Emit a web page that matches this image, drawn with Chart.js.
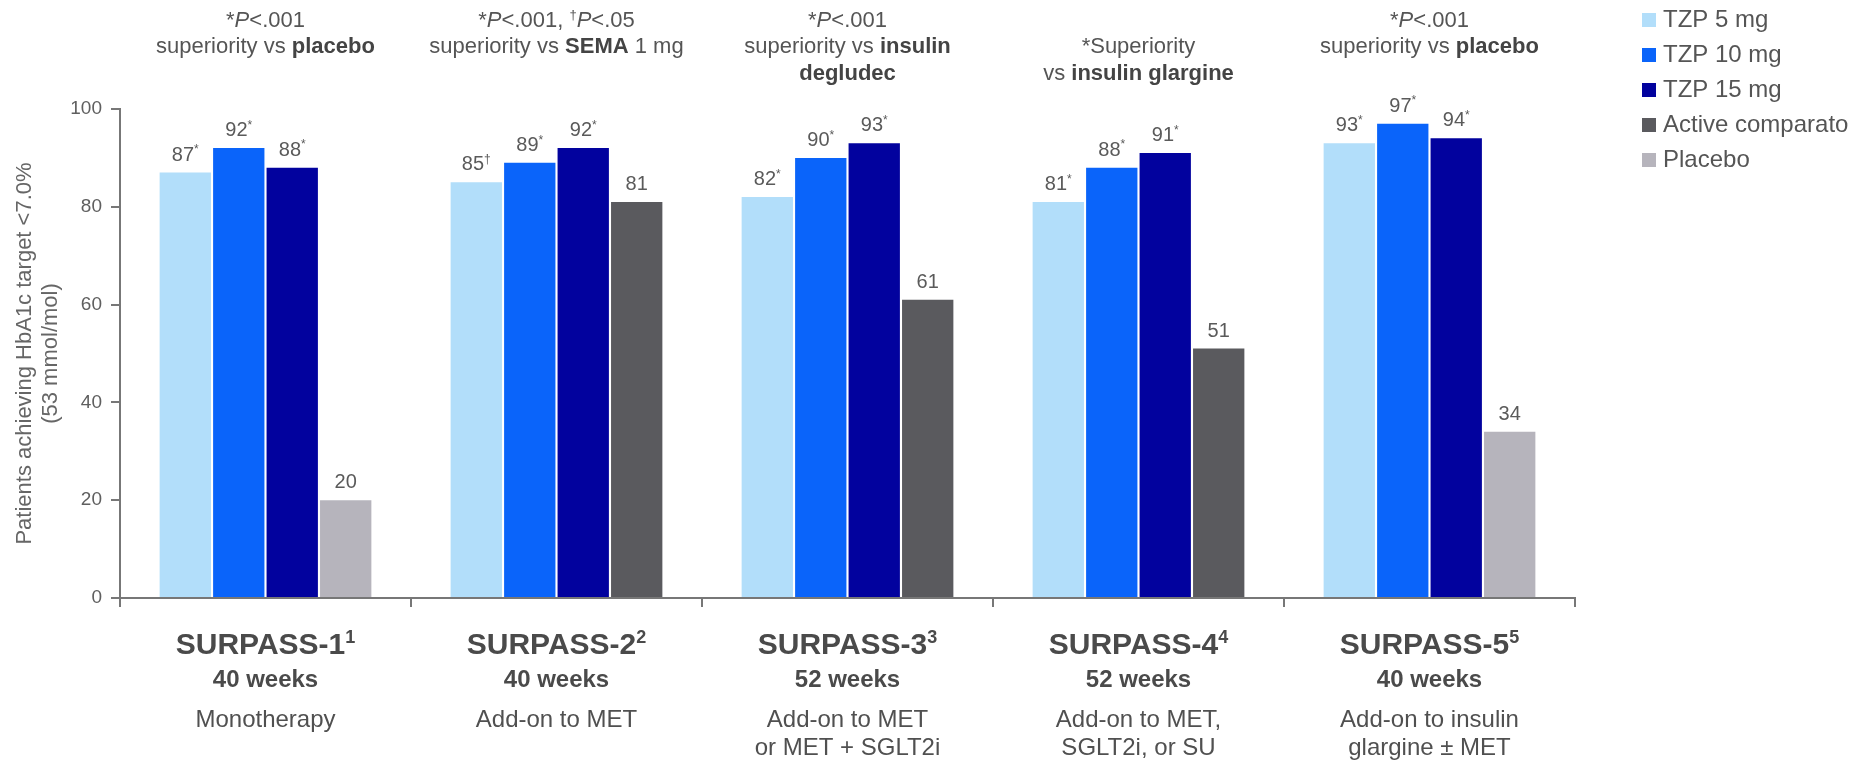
<!DOCTYPE html>
<html>
<head>
<meta charset="utf-8">
<script src="https://cdn.jsdelivr.net/npm/chart.js@4.4.1/dist/chart.umd.min.js"></script>
<style>
  html, body { margin: 0; padding: 0; background: #fff; }
</style>
</head>
<body>
<canvas id="surpass" width="1867" height="761"></canvas>
<script>
// trials along the x axis
var trials = ['SURPASS-1', 'SURPASS-2', 'SURPASS-3', 'SURPASS-4', 'SURPASS-5'];
var trialRefs = ['1', '2', '3', '4', '5'];
var durations = ['40 weeks', '40 weeks', '52 weeks', '52 weeks', '40 weeks'];
var settings = [
  ['Monotherapy'],
  ['Add-on to MET'],
  ['Add-on to MET', 'or MET + SGLT2i'],
  ['Add-on to MET,', 'SGLT2i, or SU'],
  ['Add-on to insulin', 'glargine \u00b1 MET']
];

// % of patients reaching HbA1c < 7.0%
var tzp5 = [87, 85, 82, 81, 93];
var tzp10 = [92, 89, 90, 88, 97];
var tzp15 = [88, 92, 93, 91, 94];
var activeComparator = [null, 81, 61, 51, null];
var placebo = [20, null, null, null, 34];

// footnote marks printed after each value
var tzp5Marks = ['*', '\u2020', '*', '*', '*'];
var tzp10Marks = ['*', '*', '*', '*', '*'];
var tzp15Marks = ['*', '*', '*', '*', '*'];
var noMarks = ['', '', '', '', ''];

var yTicks = [0, 20, 40, 60, 80, 100];

// significance notes above each trial: runs of [text, style] (b = bold, i = italic, s = superscript)
var notes = [
  [[['*', ''], ['P', 'i'], ['<.001', '']], [['superiority vs ', ''], ['placebo', 'b']]],
  [[['*', ''], ['P', 'i'], ['<.001, ', ''], ['\u2020', 's'], ['P', 'i'], ['<.05', '']], [['superiority vs ', ''], ['SEMA', 'b'], [' 1 mg', '']]],
  [[['*', ''], ['P', 'i'], ['<.001', '']], [['superiority vs ', ''], ['insulin', 'b']], [['degludec', 'b']]],
  [[], [['*Superiority', '']], [['vs ', ''], ['insulin glargine', 'b']]],
  [[['*', ''], ['P', 'i'], ['<.001', '']], [['superiority vs ', ''], ['placebo', 'b']]]
];

var FAMILY = '"Liberation Sans", Arial, sans-serif';

function fontFor(style, size) {
  return (style.indexOf('i') >= 0 ? 'italic ' : '') + (style.indexOf('b') >= 0 ? 'bold ' : '') + size + 'px ' + FAMILY;
}

// draws a line of mixed-style text centred on cx
function drawRuns(ctx, runs, cx, baseline, size, color, boldColor) {
  var widths = [];
  var total = 0;
  runs.forEach(function (r) {
    var sz = r[1].indexOf('s') >= 0 ? Math.round(size * 0.6) : size;
    ctx.font = fontFor(r[1], sz);
    var w = ctx.measureText(r[0]).width;
    widths.push(w);
    total += w;
  });
  var x = cx - total / 2;
  ctx.textAlign = 'left';
  ctx.textBaseline = 'alphabetic';
  runs.forEach(function (r, k) {
    var sup = r[1].indexOf('s') >= 0;
    var sz = sup ? Math.round(size * 0.6) : size;
    ctx.font = fontFor(r[1], sz);
    ctx.fillStyle = (r[1].indexOf('b') >= 0 && boldColor) ? boldColor : color;
    ctx.fillText(r[0], x, sup ? baseline - size * 0.36 : baseline);
    x += widths[k];
  });
}

var valueLabels = {
  id: 'valueLabels',
  afterDatasetsDraw: function (chart) {
    var ctx = chart.ctx;
    ctx.save();
    chart.data.datasets.forEach(function (ds, di) {
      var meta = chart.getDatasetMeta(di);
      meta.data.forEach(function (bar, i) {
        if (ds.data[i] === null) return;
        var mark = ds.marks[i];
        drawRuns(ctx, [[String(ds.data[i]), ''], [mark, 's']], bar.x, bar.y - 12, 20, '#5a5a5a');
      });
    });
    ctx.restore();
  }
};

var trialNotes = {
  id: 'trialNotes',
  afterDraw: function (chart) {
    var ctx = chart.ctx;
    var xs = chart.scales.x;
    var rows = [27, 53, 80];
    ctx.save();
    notes.forEach(function (lines, i) {
      var cx = xs.getPixelForValue(i);
      lines.forEach(function (runs, r) {
        if (runs.length) drawRuns(ctx, runs, cx, rows[r], 22, '#555555', '#444444');
      });
    });
    ctx.restore();
  }
};

var trialLabels = {
  id: 'trialLabels',
  afterDraw: function (chart) {
    var ctx = chart.ctx;
    var xs = chart.scales.x;
    ctx.save();
    trials.forEach(function (name, i) {
      var cx = xs.getPixelForValue(i);
      drawRuns(ctx, [[name, 'b'], [trialRefs[i], 'bs']], cx, 654, 30, '#4a4a4a');
      drawRuns(ctx, [[durations[i], 'b']], cx, 687, 24, '#4a4a4a');
      settings[i].forEach(function (line, k) {
        drawRuns(ctx, [[line, '']], cx, 727 + k * 28, 24, '#505050');
      });
    });
    ctx.restore();
  }
};

var sideLegend = {
  id: 'sideLegend',
  afterDraw: function (chart) {
    var ctx = chart.ctx;
    ctx.save();
    ctx.font = '24px ' + FAMILY;
    ctx.textAlign = 'left';
    ctx.textBaseline = 'middle';
    chart.data.datasets.forEach(function (ds, k) {
      var y = 20 + k * 35;
      ctx.fillStyle = ds.backgroundColor;
      ctx.fillRect(1642, y - 7, 14, 14);
      ctx.fillStyle = '#555555';
      ctx.fillText(ds.label, 1663, y);
    });
    ctx.restore();
  }
};

Chart.defaults.font.family = FAMILY;

new Chart(document.getElementById('surpass'), {
  type: 'bar',
  data: {
    labels: trials,
    datasets: [
      { label: 'TZP 5 mg', data: tzp5, marks: tzp5Marks, backgroundColor: '#b2defa' },
      { label: 'TZP 10 mg', data: tzp10, marks: tzp10Marks, backgroundColor: '#0a64fa' },
      { label: 'TZP 15 mg', data: tzp15, marks: tzp15Marks, backgroundColor: '#02029e' },
      { label: 'Active comparato', data: activeComparator, marks: noMarks, backgroundColor: '#5a5a5e' },
      { label: 'Placebo', data: placebo, marks: noMarks, backgroundColor: '#b6b4bc' }
    ]
  },
  options: {
    responsive: false,
    devicePixelRatio: 1,
    animation: false,
    skipNull: true,
    categoryPercentage: 0.735,
    barPercentage: 0.96,
    layout: { padding: { top: 109, right: 292, left: 0, bottom: 0 } },
    scales: {
      x: {
        grid: { drawOnChartArea: false, tickLength: 9, color: '#777777', lineWidth: 2, offset: true },
        border: { color: '#777777', width: 2 },
        ticks: { display: false },
        afterFit: function (s) { s.height = 163; }
      },
      y: {
        min: 0,
        max: 100,
        afterBuildTicks: function (s) { s.ticks = yTicks.map(function (v) { return { value: v }; }); },
        grid: { drawOnChartArea: false, tickLength: 9, color: '#777777', lineWidth: 2 },
        border: { color: '#777777', width: 2 },
        ticks: { color: '#5f5f5f', font: { size: 19 }, padding: 9 },
        title: {
          display: true,
          text: ['Patients achieving HbA1c target <7.0%', '(53 mmol/mol)'],
          color: '#666666',
          font: { size: 22, lineHeight: 1.18 },
          padding: { top: 12, bottom: 0 }
        },
        afterFit: function (s) { s.width = 120; }
      }
    },
    plugins: {
      legend: { display: false },
      tooltip: { enabled: false }
    }
  },
  plugins: [valueLabels, trialNotes, trialLabels, sideLegend]
});
</script>
</body>
</html>
